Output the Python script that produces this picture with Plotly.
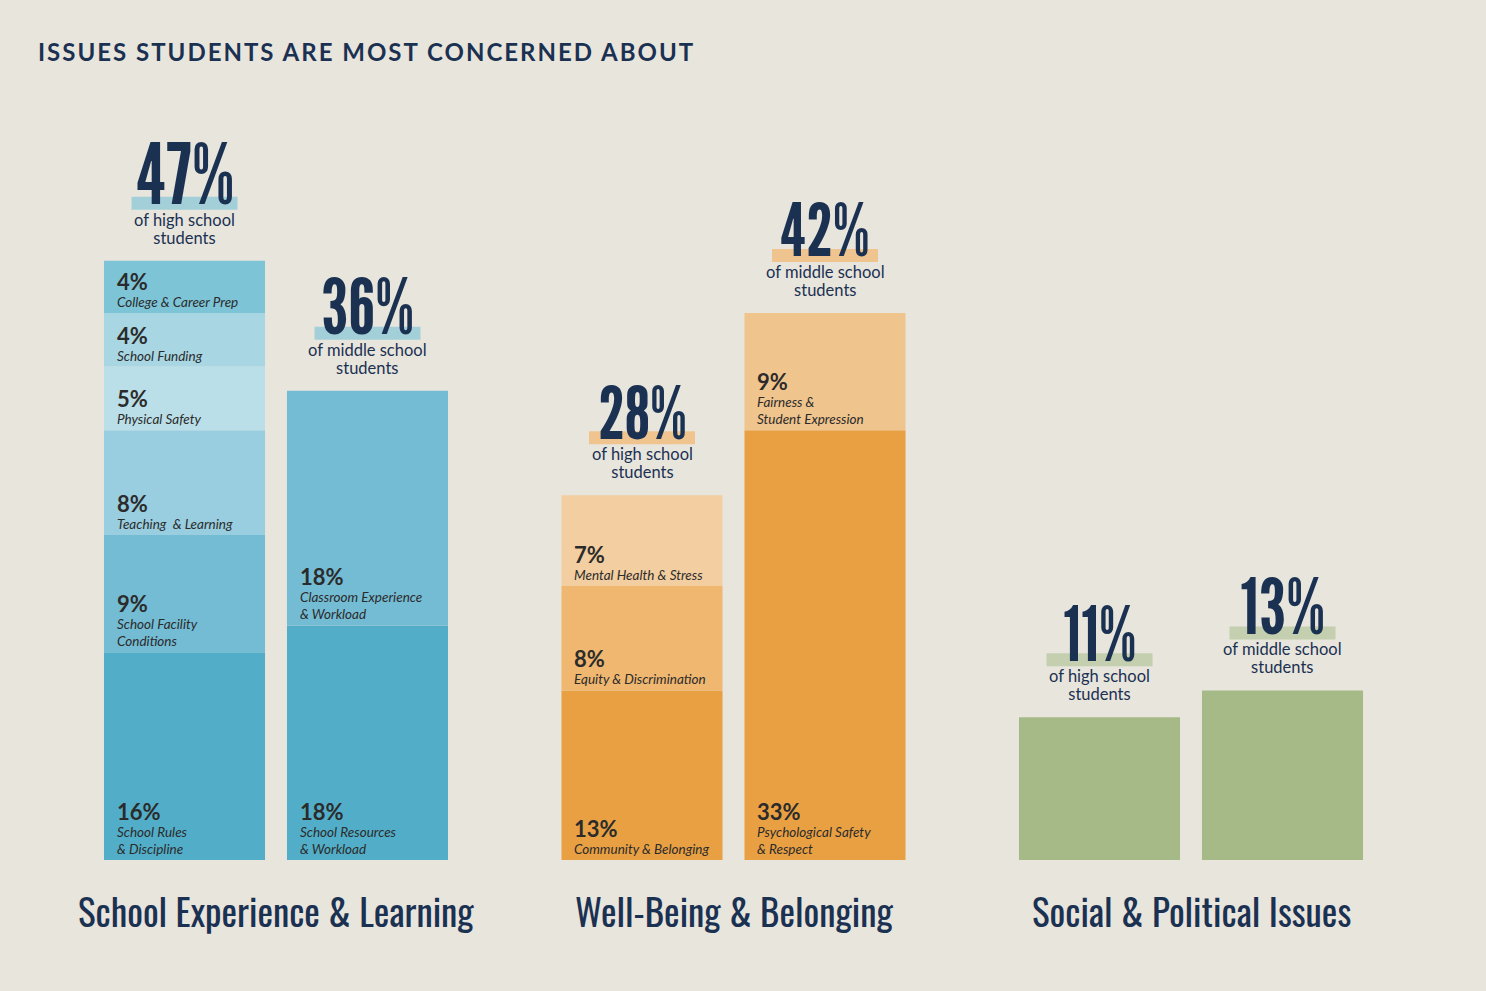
"""Stacked bars: issues students are most concerned about, by area and school level."""

import plotly.graph_objects as go

# ---- data ----
group_names = ["School Experience & Learning", "Well-Being & Belonging", "Social & Political Issues"]
bar_group = [0, 0, 1, 1, 2, 2]
bar_slot = [0, 1, 0, 1, 0, 1]
bar_headline = ["47%", "36%", "28%", "42%", "11%", "13%"]
bar_audience = ["high school", "middle school", "high school", "middle school", "high school", "middle school"]

# segments, bottom to top inside each bar
seg_bar = [0, 0, 0, 0, 0, 0, 1, 1, 2, 2, 2, 3, 3, 4, 5]
seg_value = [16.3, 9.2, 8.2, 5.0, 4.2, 4.1, 18.4, 18.4, 13.3, 8.2, 7.1, 33.7, 9.2, 11.2, 13.3]
seg_pct = ["16%", "9%", "8%", "5%", "4%", "4%", "18%", "18%", "13%", "8%", "7%", "33%", "9%", "", ""]
seg_name = [
  "School Rules<br>& Discipline",
  "School Facility<br>Conditions",
  "Teaching  & Learning",
  "Physical Safety",
  "School Funding",
  "College & Career Prep",
  "School Resources<br>& Workload",
  "Classroom Experience<br>& Workload",
  "Community & Belonging",
  "Equity & Discrimination",
  "Mental Health & Stress",
  "Psychological Safety<br>& Respect",
  "Fairness &<br>Student Expression",
  "",
  "",
]

# ---- styles ----
seg_color = [
  "#52AEC8", "#74BCD4", "#98CEDF", "#BADFE8", "#A8D6E3", "#7DC4D7",
  "#52AEC8", "#74BCD4",
  "#E9A043", "#F0B770", "#F3CEA0",
  "#E9A043", "#F0C48D",
  "#A5BA86",
  "#A5BA86",
]
highlight_color = ["#A3CFD9", "#A3CFD9", "#F0C48F", "#F0C48F", "#C3CFAE", "#C3CFAE"]
headline_size = [85, 78, 74, 74, 75, 78]
BG = "#E8E5DD"
NAVY = "#1B3152"
INK = "#2B2B2B"
GOTHIC = "League Gothic, Oswald, Antonio, sans-serif"
GOTHIC_LIGHT = "Oswald, Antonio, League Gothic, sans-serif"
LATO = "Lato, Open Sans, sans-serif"

W, H = 1486, 991
GROUP_STEP, SLOT_STEP, BAR_WIDTH = 2.5, 1.0, 0.88
PX_PER_UNIT_X, X0_PX = 183.0, 184.5
PX_PER_PCT, BASE_PX = 12.75, 860.0
HEADLINE_BASELINE = 57  # px above the bar top


def bar_x(index):
  return bar_group[index] * GROUP_STEP + bar_slot[index] * SLOT_STEP


fig = go.Figure()
bases = [0.0] * len(bar_group)
for value, bar, color, pct, name in zip(seg_value, seg_bar, seg_color, seg_pct, seg_name):
  x = bar_x(bar)
  fig.add_trace(
    go.Bar(
      x=[x], y=[value], base=[bases[bar]], width=BAR_WIDTH,
      marker={"color": color, "line": {"width": 0}},
      hoverinfo="skip", showlegend=False,
    )
  )
  if pct:
    # base size sets the line pitch, the spans set the glyph sizes
    fig.add_annotation(
      x=x - BAR_WIDTH / 2, y=bases[bar], xanchor="left", yanchor="bottom",
      xshift=11, yshift=1, showarrow=False, align="left",
      text=(
        f'<span style="font-size:22px;font-weight:700">{pct}</span><br>'
        f'<i><span style="font-size:13.5px">{name}</span></i>'
      ),
      font={"family": LATO, "size": 13, "color": INK},
    )
  bases[bar] += value

for index, (headline, audience) in enumerate(zip(bar_headline, bar_audience)):
  x, top = bar_x(index), bases[index]
  size = headline_size[index]
  fig.add_shape(
    type="rect", xref="x", yref="y", xsizemode="pixel", ysizemode="pixel",
    xanchor=x, yanchor=top, x0=-53, x1=53, y0=51, y1=64,
    fillcolor=highlight_color[index], line={"width": 0}, layer="below",
  )
  fig.add_annotation(
    x=x, y=top, xanchor="center", yanchor="bottom",
    yshift=HEADLINE_BASELINE - 0.26 * size, showarrow=False,
    text=headline, font={"family": GOTHIC, "size": size, "color": NAVY},
  )
  fig.add_annotation(
    x=x, y=top, xanchor="center", yanchor="bottom", yshift=11, showarrow=False,
    text=f'<span style="font-size:16.5px">of {audience}<br>students</span>', align="center",
    font={"family": LATO, "size": 14, "color": NAVY},
  )

for group, name in enumerate(group_names):
  fig.add_annotation(
    x=group * GROUP_STEP + SLOT_STEP / 2, y=0, xanchor="center", yanchor="middle",
    yshift=-50, showarrow=False, text=name,
    font={"family": GOTHIC_LIGHT, "size": 37, "color": NAVY, "weight": 400},
  )

fig.add_annotation(
  x=36 / W, y=1 - 51 / H, xref="paper", yref="paper", xanchor="left", yanchor="middle",
  showarrow=False,
  text='<span style="letter-spacing:2px">ISSUES STUDENTS ARE MOST CONCERNED ABOUT</span>',
  font={"family": LATO, "size": 24, "color": NAVY, "weight": "bold"},
)

fig.update_xaxes(
  visible=False, fixedrange=True,
  range=[-X0_PX / PX_PER_UNIT_X, (W - X0_PX) / PX_PER_UNIT_X],
)
fig.update_yaxes(
  visible=False, fixedrange=True,
  range=[(BASE_PX - H) / PX_PER_PCT, BASE_PX / PX_PER_PCT],
)
fig.update_layout(
  width=W, height=H, barmode="overlay",
  margin={"l": 0, "r": 0, "t": 0, "b": 0},
  paper_bgcolor=BG, plot_bgcolor=BG,
  showlegend=False, hovermode=False,
)
fig.write_html(
  "out.html",
  config={"displayModeBar": False},
  post_script="document.body.style.margin = '0';",
)
